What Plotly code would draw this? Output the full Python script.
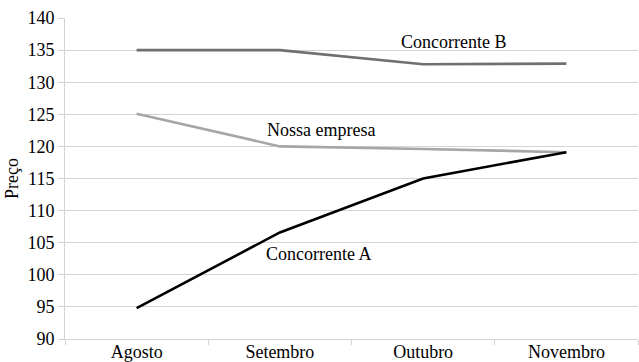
import plotly.graph_objects as go

# Monthly price comparison
meses = ["Agosto", "Setembro", "Outubro", "Novembro"]
concorrente_b = [135.0, 135.0, 132.8, 132.9]
nossa_empresa = [125.1, 120.0, 119.6, 119.1]
concorrente_a = [94.8, 106.6, 115.0, 119.1]
y_ticks = [90, 95, 100, 105, 110, 115, 120, 125, 130, 135, 140]

FONT = "Liberation Serif"
GRID = "#d4d4d4"

fig = go.Figure()
series = [
    ("Concorrente B", concorrente_b, "#707070"),
    ("Nossa empresa", nossa_empresa, "#a6a6a6"),
    ("Concorrente A", concorrente_a, "#000000"),
]
for name, vals, color in series:
    fig.add_trace(go.Scatter(
        x=meses, y=vals, name=name, mode="lines",
        line=dict(color=color, width=2.6),
    ))

# Inline series labels
labels = [
    ("Concorrente B", 0.773, 136.3),
    ("Nossa empresa", 0.447, 122.6),
    ("Concorrente A", 0.443, 103.2),
]
for text, xp, yv in labels:
    fig.add_annotation(
        text=text, xref="paper", yref="y", x=xp, y=yv,
        showarrow=False, font=dict(family=FONT, size=18, color="#000000"),
    )

fig.update_layout(
    width=639, height=362,
    margin=dict(l=65, r=1, t=18, b=23),
    paper_bgcolor="white", plot_bgcolor="white",
    showlegend=False,
    font=dict(family=FONT, size=18, color="#000000"),
)
fig.update_xaxes(
    type="category", range=[-0.5, 3.5], automargin=False,
    showgrid=False, showline=True, linecolor=GRID, linewidth=1,
    ticks="outside", tickson="boundaries", ticklen=5, tickcolor=GRID,
    ticklabelstandoff=-4,
    tickfont=dict(family=FONT, size=18),
)
fig.update_yaxes(
    range=[90, 140], tickvals=y_ticks, automargin=False,
    showgrid=True, gridcolor=GRID, gridwidth=1,
    showline=True, linecolor=GRID, linewidth=1, zeroline=False,
    ticks="outside", ticklen=6, tickcolor=GRID,
    tickfont=dict(family=FONT, size=18),
    title=dict(text="Preço", font=dict(family=FONT, size=18), standoff=4),
)

fig.write_html("out.html")
